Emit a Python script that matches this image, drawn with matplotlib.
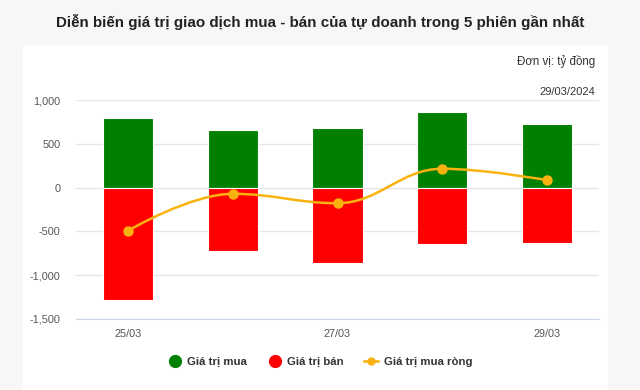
import numpy as np
import matplotlib.pyplot as plt
from matplotlib.patches import Rectangle, PathPatch
from matplotlib.path import Path
from matplotlib.lines import Line2D
from matplotlib.ticker import FuncFormatter

plt.rcParams['font.family'] = ['Liberation Sans', 'DejaVu Sans']

dates = ['25/03', '26/03', '27/03', '28/03', '29/03']
mua = [792, 654, 684, 860, 723]
ban = [-1282, -725, -862, -645, -638]
rong = [-490, -71, -178, 215, 85]

GREEN = '#008000'
RED = '#ff0000'
ORANGE = '#f9b20f'


def spline_path(xs, ys, smoothing=1.5):
    # highcharts-like spline: bezier control points per point
    denom = smoothing + 1
    n = len(xs)
    left = [None] * n
    right = [None] * n
    for i in range(n):
        x, y = xs[i], ys[i]
        if i == 0 or i == n - 1:
            left[i] = (x, y)
            right[i] = (x, y)
            continue
        lx, ly = xs[i - 1], ys[i - 1]
        nx, ny = xs[i + 1], ys[i + 1]
        lcx = (smoothing * x + lx) / denom
        lcy = (smoothing * y + ly) / denom
        rcx = (smoothing * x + nx) / denom
        rcy = (smoothing * y + ny) / denom
        corr = ((rcy - lcy) * (rcx - x)) / (rcx - lcx) + y - rcy
        lcy += corr
        rcy += corr
        if lcy > max(ly, y):
            lcy = max(ly, y)
            rcy = 2 * y - lcy
        elif lcy < min(ly, y):
            lcy = min(ly, y)
            rcy = 2 * y - lcy
        if rcy > max(ny, y):
            rcy = max(ny, y)
            lcy = 2 * y - rcy
        elif rcy < min(ny, y):
            rcy = min(ny, y)
            lcy = 2 * y - rcy
        left[i] = (lcx, lcy)
        right[i] = (rcx, rcy)
    verts = [(xs[0], ys[0])]
    codes = [Path.MOVETO]
    for i in range(1, n):
        verts += [right[i - 1], left[i], (xs[i], ys[i])]
        codes += [Path.CURVE4] * 3
    return Path(verts, codes)


fig = plt.figure(figsize=(6.4, 3.9), dpi=100)
fig.patch.set_facecolor('#f7f7f7')
fig.patches.append(Rectangle((23 / 640, 0), 585 / 640, 345 / 390,
                             transform=fig.transFigure, facecolor='white',
                             edgecolor='none', zorder=-5))

ax = fig.add_axes([76 / 640, 71 / 390, 523 / 640, 219 / 390])
ax.set_facecolor('none')
x = np.arange(len(dates))

ax.bar(x, mua, width=0.48, color=GREEN, edgecolor='white', linewidth=0.8, zorder=2)
ax.bar(x, ban, width=0.48, color=RED, edgecolor='white', linewidth=0.8, zorder=2)

ax.add_patch(PathPatch(spline_path(list(x), rong), facecolor='none',
                       edgecolor=ORANGE, linewidth=1.8, zorder=3))
ax.plot(x, rong, linestyle='none', marker='o', markersize=6.5,
        color=ORANGE, zorder=4)

ax.set_xlim(-0.5, 4.5)
ax.set_ylim(-1500, 1000)
ax.set_yticks([-1500, -1000, -500, 0, 500, 1000])
ax.yaxis.set_major_formatter(FuncFormatter(lambda v, p: f'{int(v):,}'))
ax.set_xticks([0, 2, 4])
ax.set_xticklabels([dates[0], dates[2], dates[4]])
ax.grid(axis='y', color='#e6e6e6', linewidth=1, zorder=0)
ax.set_axisbelow(True)
for s in ['top', 'right', 'left']:
    ax.spines[s].set_visible(False)
ax.spines['bottom'].set_color('#ccd6eb')
ax.spines['bottom'].set_position(('data', -1500))
ax.tick_params(axis='both', length=0, labelsize=7.8, colors='#555555')
ax.tick_params(axis='y', pad=11)
ax.tick_params(axis='x', pad=7)

fig.text(0.5, 1 - 22 / 390, 'Diễn biến giá trị giao dịch mua - bán của tự doanh trong 5 phiên gần nhất',
         ha='center', va='center', fontsize=10.9, fontweight='bold', color='#222222')
fig.text(595 / 640, 1 - 62 / 390, 'Đơn vị: tỷ đồng', ha='right', va='center',
         fontsize=8.3, color='#333333')
fig.text(595 / 640, 1 - 92 / 390, '29/03/2024', ha='right', va='center',
         fontsize=8, color='#333333')

handles = [
    Line2D([], [], linestyle='none', marker='o', markersize=8.5, color=GREEN),
    Line2D([], [], linestyle='none', marker='o', markersize=8.5, color=RED),
    Line2D([], [], color=ORANGE, linewidth=1.8, marker='o', markersize=5),
]
leg = fig.legend(handles, ['Giá trị mua', 'Giá trị bán', 'Giá trị mua ròng'],
                 loc='center', bbox_to_anchor=(0.5, 1 - 362 / 390), ncol=3,
                 frameon=False, handlelength=1.2, handletextpad=0.5,
                 columnspacing=1.8, prop={'weight': 'bold', 'size': 8.2})
for t in leg.get_texts():
    t.set_color('#333333')

fig.savefig('out.png', dpi=100, facecolor=fig.get_facecolor())
